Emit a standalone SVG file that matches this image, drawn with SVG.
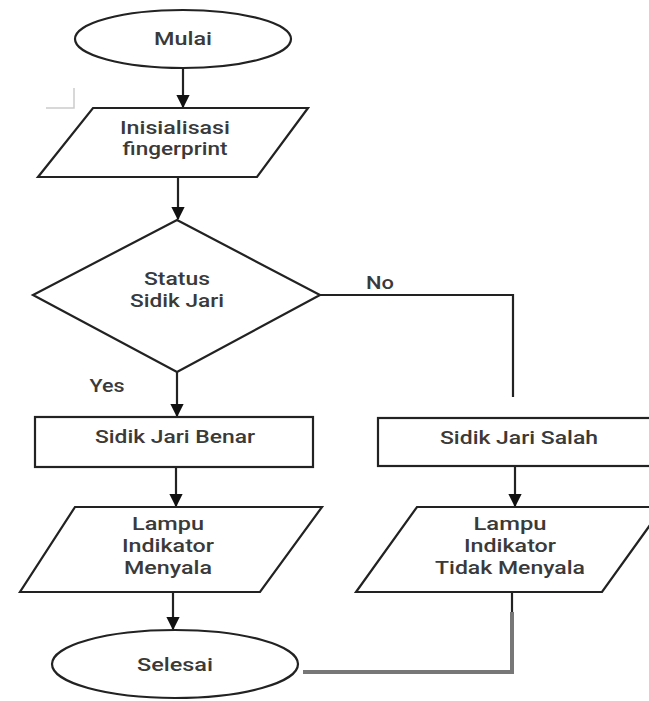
<svg xmlns="http://www.w3.org/2000/svg" width="649" height="701" viewBox="0 0 649 701">
<defs>
<style>
.s{fill:#fff;stroke:#222;stroke-width:2.2}
.c{fill:none;stroke:#222;stroke-width:2.2}
.g{fill:none;stroke:#777;stroke-width:4}
.t{font-family:Roboto,"Liberation Sans",sans-serif;font-size:18px;font-weight:500;fill:#3a3a3a;text-anchor:middle;dominant-baseline:central}
</style>
<marker id="a" viewBox="0 0 10 10" refX="9" refY="5" markerWidth="6" markerHeight="6" orient="auto" markerUnits="strokeWidth">
<path d="M0,0 L10,5 L0,10 z" fill="#111"/>
</marker>
</defs>
<rect width="649" height="701" fill="#fff"/>
<path d="M74,88 V108 H46" fill="none" stroke="#ccc" stroke-width="1.5"/>
<g id="connectors">
<line class="c" x1="183" y1="68" x2="183" y2="107" marker-end="url(#a)"/>
<line class="c" x1="178" y1="177" x2="178" y2="219" marker-end="url(#a)"/>
<line class="c" x1="177" y1="372" x2="177" y2="416" marker-end="url(#a)"/>
<polyline class="c" points="320,295 513,295 513,397"/>
<line class="c" x1="176" y1="467" x2="176" y2="506" marker-end="url(#a)"/>
<line class="c" x1="515" y1="466" x2="515" y2="506" marker-end="url(#a)"/>
<line class="c" x1="173" y1="592" x2="173" y2="629" marker-end="url(#a)"/>
<line class="c" x1="512" y1="592" x2="512" y2="612"/>
<polyline class="g" points="512,612 512,672 303,672"/>
<text class="t" x="380" y="282" textLength="28" lengthAdjust="spacingAndGlyphs">No</text>
<text class="t" x="107" y="385" textLength="35" lengthAdjust="spacingAndGlyphs">Yes</text>
</g>
<g id="mulai">
<ellipse class="s" cx="183" cy="39" rx="108" ry="29"/>
<text class="t" x="183" y="38" textLength="58" lengthAdjust="spacingAndGlyphs">Mulai</text>
</g>
<g id="init">
<polygon class="s" points="93,108 308,108 257,177 38,177"/>
<text class="t" x="175" y="127" textLength="110" lengthAdjust="spacingAndGlyphs">Inisialisasi</text>
<text class="t" x="175" y="148" textLength="105" lengthAdjust="spacingAndGlyphs">fingerprint</text>
</g>
<g id="status">
<polygon class="s" points="177,220 320,295 177,372 33,295"/>
<text class="t" x="177" y="278" textLength="66" lengthAdjust="spacingAndGlyphs">Status</text>
<text class="t" x="177" y="300" textLength="94" lengthAdjust="spacingAndGlyphs">Sidik Jari</text>
</g>
<g id="benar">
<rect class="s" x="35" y="417" width="278" height="50"/>
<text class="t" x="175" y="436" textLength="160" lengthAdjust="spacingAndGlyphs">Sidik Jari Benar</text>
</g>
<g id="salah">
<rect class="s" x="378" y="418" width="282" height="48"/>
<text class="t" x="519" y="437" textLength="158" lengthAdjust="spacingAndGlyphs">Sidik Jari Salah</text>
</g>
<g id="menyala">
<polygon class="s" points="75,507 322,507 260,592 20,592"/>
<text class="t" x="168" y="523" textLength="72" lengthAdjust="spacingAndGlyphs">Lampu</text>
<text class="t" x="168" y="545" textLength="92" lengthAdjust="spacingAndGlyphs">Indikator</text>
<text class="t" x="168" y="567" textLength="88" lengthAdjust="spacingAndGlyphs">Menyala</text>
</g>
<g id="tidak">
<polygon class="s" points="417,507 663,507 602,592 356,592"/>
<text class="t" x="510" y="523" textLength="73" lengthAdjust="spacingAndGlyphs">Lampu</text>
<text class="t" x="510" y="545" textLength="92" lengthAdjust="spacingAndGlyphs">Indikator</text>
<text class="t" x="510" y="567" textLength="150" lengthAdjust="spacingAndGlyphs">Tidak Menyala</text>
</g>
<g id="selesai">
<ellipse class="s" cx="175" cy="664" rx="123" ry="34"/>
<text class="t" x="175" y="664" textLength="76" lengthAdjust="spacingAndGlyphs">Selesai</text>
</g>
</svg>
